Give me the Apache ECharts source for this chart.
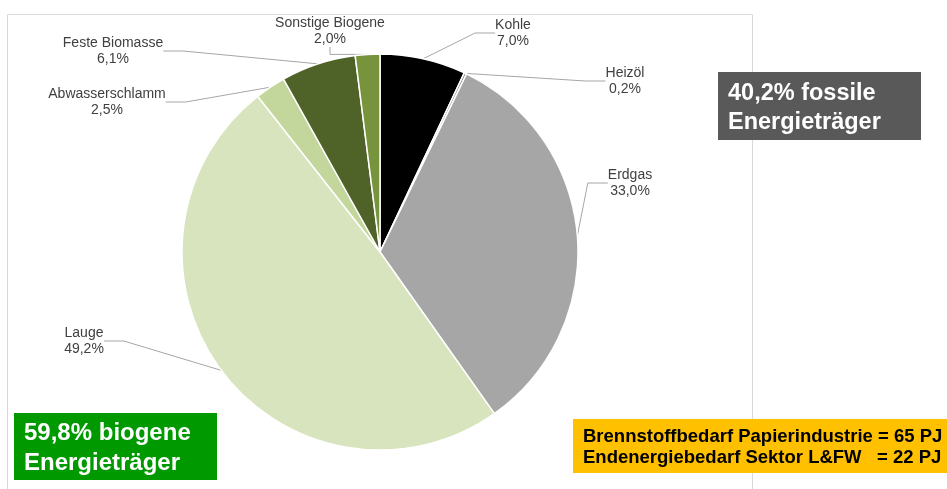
<!DOCTYPE html>
<html><head><meta charset="utf-8">
<script src="https://cdn.jsdelivr.net/npm/echarts@6/dist/echarts.min.js"></script>
<style>html,body{margin:0;padding:0;background:#fff}#c{width:947px;height:489px}</style>
</head><body><div id="c"></div>
<script>
const categories = ['Kohle','Heizöl','Erdgas','Lauge','Abwasserschlamm','Feste Biomasse','Sonstige Biogene'];
const shares = [7.0, 0.2, 33.0, 49.2, 2.5, 6.1, 2.0];
const colors = ['#000000','#7f7f7f','#a6a6a6','#d7e4bd','#c3d69b','#4f6228','#77933c'];
const fossilText = ['40,2% fossile','Energieträger'];
const bioText = ['59,8% biogene','Energieträger'];
const infoText = ['Brennstoffbedarf Papierindustrie = 65 PJ','Endenergiebedarf Sektor L&FW   = 22 PJ'];

const chart = echarts.init(document.getElementById('c'), null, {renderer:'canvas'});
const fmt = v => v.toFixed(1).replace('.', ',') + '%';
// label placement (text block centres), as in the original layout
const labelSpots = [[513,33],[625,81],[630,183],[84,341],[107,102],[113,51],[330,31]];
chart.setOption({
  animation:false,
  graphic:[
    {type:'rect', shape:{x:7.5,y:14.5,width:745,height:500}, style:{fill:'none',stroke:'#d9d9d9',lineWidth:1}, z:-1},
    {type:'rect', shape:{x:718,y:72,width:203,height:68}, style:{fill:'#595959'}},
    {type:'text', x:728, y:79, style:{text:fossilText.join('\n'), fill:'#fff', font:'bold 23.5px "Liberation Sans", Arial', lineHeight:29}},
    {type:'rect', shape:{x:14,y:413,width:203,height:67}, style:{fill:'#009900'}},
    {type:'text', x:24, y:418, style:{text:bioText.join('\n'), fill:'#fff', font:'bold 24px "Liberation Sans", Arial', lineHeight:30}},
    {type:'rect', shape:{x:573,y:419,width:380,height:54}, style:{fill:'#ffc000'}},
    {type:'text', x:583, y:426, style:{text:infoText.join('\n'), fill:'#000', font:'bold 18.5px "Liberation Sans", Arial', lineHeight:21}}
  ],
  series:[{
    type:'pie',
    center:[380,252],
    radius:198,
    startAngle:90,
    clockwise:true,
    avoidLabelOverlap:false,
    itemStyle:{borderColor:'#fff', borderWidth:1.5},
    label:{show:true, formatter:p=>p.name+'\n'+fmt(p.value), color:'#404040', fontSize:14, fontFamily:'"Liberation Sans", Arial', lineHeight:16, align:'center'},
    labelLine:{show:true, length:20, length2:20, lineStyle:{color:'#a6a6a6', width:1}},
    labelLayout: p => ({x: labelSpots[p.dataIndex][0], y: labelSpots[p.dataIndex][1], align:'center', verticalAlign:'middle'}),
    data: categories.map((n,i)=>({name:n, value:shares[i], itemStyle:{color:colors[i]}}))
  }]
});
</script></body></html>
